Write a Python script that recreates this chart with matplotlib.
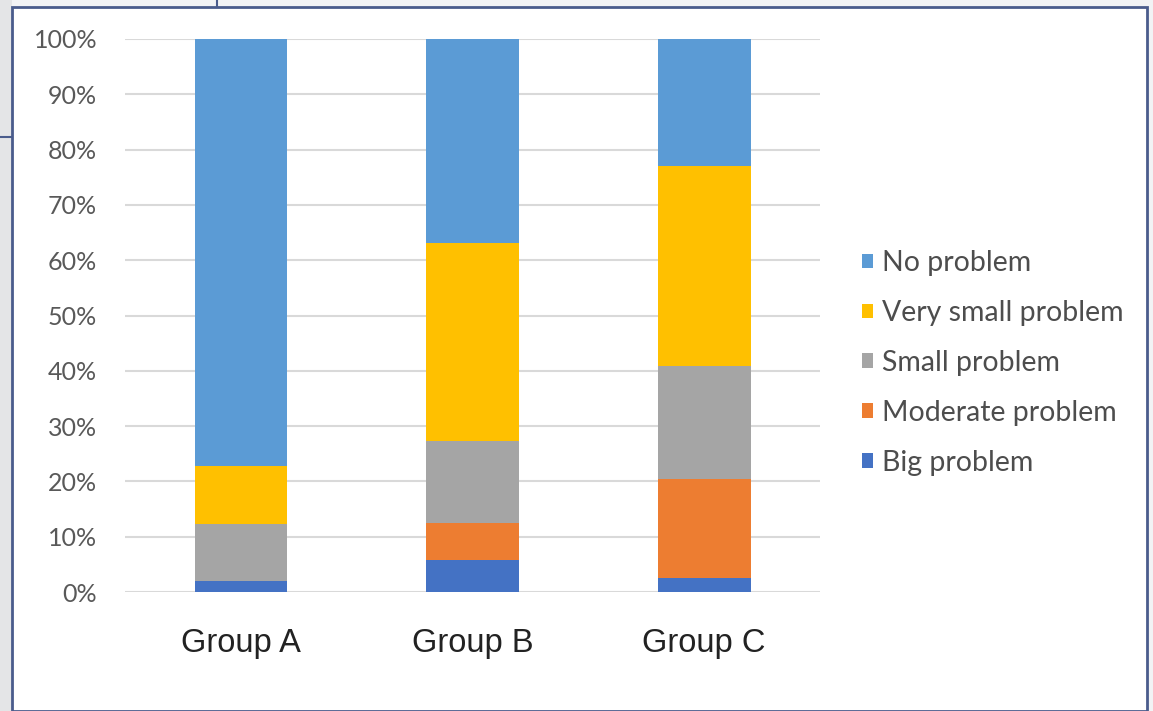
import matplotlib
matplotlib.use("Agg")
import matplotlib.pyplot as plt
from matplotlib.patches import Rectangle
from matplotlib.lines import Line2D
from matplotlib.ticker import PercentFormatter

groups = ["Group A", "Group B", "Group C"]
big = [1.9, 5.8, 2.6]
moderate = [0.0, 6.6, 17.8]
small = [10.4, 14.9, 20.5]
very_small = [10.5, 35.8, 36.1]
no_problem = [77.2, 36.9, 23.0]

series = [
    ("Big problem", big, "#4472C4"),
    ("Moderate problem", moderate, "#ED7D31"),
    ("Small problem", small, "#A5A5A5"),
    ("Very small problem", very_small, "#FFC000"),
    ("No problem", no_problem, "#5B9BD5"),
]

W, H = 1153, 711
fig = plt.figure(figsize=(W / 100, H / 100), dpi=100)
fig.patch.set_facecolor("#F2F3F5")

# screenshot decorations
fig.add_artist(Rectangle((0, 0), 12 / W, 1, transform=fig.transFigure,
                         facecolor="#E4E5E7", edgecolor="none", zorder=0))
fig.add_artist(Rectangle((12 / W, 0), (1147 - 12) / W, (H - 7) / H,
                         transform=fig.transFigure, facecolor="white",
                         edgecolor="#4A5C8C", linewidth=2, zorder=1))
fig.add_artist(Line2D([217 / W, 217 / W], [1, (H - 7) / H], transform=fig.transFigure,
                      color="#4A5C8C", linewidth=1.5, zorder=1))
fig.add_artist(Line2D([0, 12 / W], [(H - 137) / H, (H - 137) / H], transform=fig.transFigure,
                      color="#4A5C8C", linewidth=1.5, zorder=1))

ax = fig.add_axes([125 / W, (H - 592) / H, (820 - 125) / W, (592 - 39) / H])
ax.set_facecolor("none")
ax.set_zorder(2)

x = list(range(len(groups)))
bottom = [0.0] * len(groups)
handles = {}
for name, vals, color in series:
    b = ax.bar(x, vals, bottom=bottom, width=0.4, color=color, label=name, zorder=3)
    handles[name] = b
    bottom = [bb + v for bb, v in zip(bottom, vals)]

ax.set_xlim(-0.5, 2.5)
ax.set_ylim(0, 100)
ax.set_yticks(range(0, 101, 10))
ax.yaxis.set_major_formatter(PercentFormatter(decimals=0))
ax.grid(axis="y", color="#D9D9D9", linewidth=1.5, zorder=0)
for s in ax.spines.values():
    s.set_visible(False)
ax.tick_params(axis="both", length=0)
ax.tick_params(axis="y", pad=20, labelsize=18, labelcolor="#595959")
for lbl in ax.get_yticklabels():
    lbl.set_fontfamily("Lato")
ax.set_xticks(x)
ax.set_xticklabels(groups, fontsize=23.5, fontfamily="Liberation Sans", color="#222222")
ax.tick_params(axis="x", pad=26)

order = ["No problem", "Very small problem", "Small problem", "Moderate problem", "Big problem"]
leg = fig.legend([handles[n] for n in order], order,
                 loc="upper left", bbox_to_anchor=(862 / W, (H - 250) / H),
                 frameon=False, borderpad=0, borderaxespad=0,
                 handlelength=0.4, handleheight=0.4,
                 handletextpad=0.32, labelspacing=0.84,
                 prop={"family": "Lato", "size": 20.5})
for t in leg.get_texts():
    t.set_color("#4D4D4D")

fig.savefig("out.png", dpi=100)
